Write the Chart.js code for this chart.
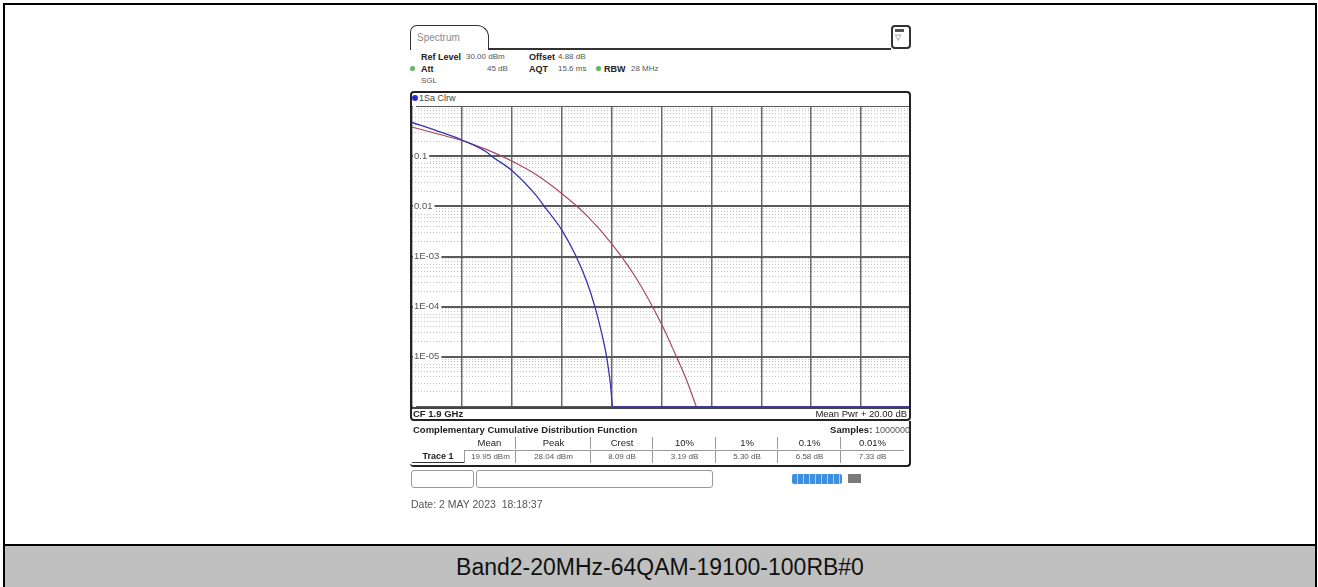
<!DOCTYPE html>
<html>
<head>
<meta charset="utf-8">
<script src="https://cdn.jsdelivr.net/npm/chart.js"></script>
<style>
  body { margin:0; width:1318px; height:587px; background:#fff; position:relative; overflow:hidden;
         font-family:"Liberation Sans", Arial, sans-serif; color:#222; }
  .a { position:absolute; white-space:nowrap; }
  .t { position:absolute; white-space:nowrap; line-height:12px; height:12px; }
  .b { font-weight:bold; font-size:9px; color:#222; }
  .v { font-size:8px; color:#555; }
  .dot { position:absolute; width:5px; height:5px; border-radius:50%; background:#5cb85c; }
</style>
</head>
<body>
<!-- document frame + caption band -->
<div class="a" style="left:3px;top:3px;width:1310px;height:600px;border:2px solid #000;border-bottom:none"></div>
<div class="a" style="left:3px;top:544px;width:1314px;height:2px;background:#000"></div>
<div class="a" style="left:5px;top:546px;width:1310px;height:41px;background:#c0c0c0"></div>
<div class="a" id="caption" style="left:5px;top:554px;width:1310px;text-align:center;font-size:23px;line-height:26px;color:#111"></div>

<!-- instrument header -->
<div class="a" style="left:410px;top:25px;width:77px;height:24px;border:1.5px solid #333;border-bottom:none;border-radius:7px 12px 0 0"></div>
<div class="t" style="left:417px;top:32px;font-size:10px;color:#8c8c8c">Spectrum</div>
<div class="a" style="left:488px;top:48px;width:403px;height:1.5px;background:#333"></div>
<div class="a" style="left:891px;top:25px;width:16px;height:20px;border:2px solid #333;border-radius:4px"></div>
<div class="a" style="left:895px;top:29px;width:9px;height:3px;background:#555"></div>
<div class="t" style="left:895px;top:32px;font-size:8px;color:#555">&#9661;</div>

<div class="t b" style="left:421px;top:51px">Ref Level</div>
<div class="t v" style="left:466px;top:51px">30.00 dBm</div>
<div class="t b" style="left:529px;top:51px">Offset</div>
<div class="t v" style="left:558px;top:51px">4.88 dB</div>
<div class="dot" style="left:410px;top:66px"></div>
<div class="t b" style="left:421px;top:63px">Att</div>
<div class="t v" style="left:487px;top:63px">45 dB</div>
<div class="t b" style="left:529px;top:63px">AQT</div>
<div class="t v" style="left:558px;top:63px">15.6 ms</div>
<div class="dot" style="left:596px;top:66px"></div>
<div class="t b" style="left:604px;top:63px">RBW</div>
<div class="t v" style="left:631px;top:63px">28 MHz</div>
<div class="t v" style="left:421px;top:75px">SGL</div>

<!-- diagram -->
<div class="a" style="left:412px;top:95px;width:6px;height:6px;border-radius:50%;background:#2a2ad0"></div>
<div class="t" style="left:419px;top:92px;font-size:9px;color:#444">1Sa Clrw</div>
<canvas id="ccdf" width="499" height="301" class="a" style="left:412px;top:106px"></canvas>
<div class="a" style="left:412px;top:407px;width:497px;height:1.5px;background:#444"></div>
<div class="a" style="left:410px;top:91px;width:497px;height:326px;border:2px solid #222;border-radius:4px;z-index:2"></div>
<div class="t" style="left:413px;top:408px;font-size:9.5px;font-weight:bold;color:#222">CF 1.9 GHz</div>
<div class="t" style="left:700px;top:408px;width:207px;text-align:right;font-size:9.5px;color:#222">Mean Pwr + 20.00 dB</div>

<!-- CCDF result panel -->
<div class="a" style="left:410px;top:421px;width:499px;height:44px;border-bottom:2px solid #222;border-right:2px solid #222;border-radius:0 0 4px 4px"></div>
<div class="t" style="left:413px;top:424px;font-size:9.5px;font-weight:bold">Complementary Cumulative Distribution Function</div>
<div class="t" style="left:760px;top:424px;width:150px;text-align:right;font-size:9.5px"><b>Samples:</b> <span style="color:#555;font-size:9px">1000000</span></div>
<div id="table"></div>

<!-- status bar -->
<div class="a" style="left:411px;top:470px;width:61px;height:16px;border:1px solid #999;border-radius:3px"></div>
<div class="a" style="left:476px;top:470px;width:235px;height:16px;border:1px solid #999;border-radius:3px"></div>
<div class="a" style="left:792px;top:474px;width:50px;height:10px;border-radius:2px;background:repeating-linear-gradient(90deg,#3d8fe0 0 5px,#a8cff2 5px 6px)"></div>
<div class="a" style="left:848px;top:474px;width:13px;height:9px;background:#7a7a7a"></div>

<div class="t" style="left:411px;top:498px;font-size:10.5px;color:#555">Date: 2 MAY 2023&nbsp; 18:18:37</div>

<script>
// measured trace (blue): power above mean in dB vs. probability
const traceDb   = [0, 1, 2, 3, 3.19, 4, 5, 5.3, 6, 6.58, 7, 7.33, 7.6, 7.8, 7.95, 8.05, 20];
const traceCcdf = [0.47, 0.32, 0.21, 0.12, 0.1, 0.052, 0.016, 0.01, 0.0034, 0.001, 0.00032, 0.0001,
                   0.00003, 0.00001, 0.000003, 0.000001, 0.000001];
// gaussian reference (red)
const gaussDb   = [0, 1, 2, 3, 4, 5, 6, 7, 8, 9, 10, 10.6, 11, 11.4];
const gaussCcdf = [0.38, 0.28, 0.205, 0.135, 0.08, 0.042, 0.018, 0.0066, 0.0018, 0.00036,
                   0.000045, 0.00001, 0.0000035, 0.000001];

// axis ticks
const yDecades    = [1, 1e-1, 1e-2, 1e-3, 1e-4, 1e-5, 1e-6];
const yTickValues = [1e-1, 1e-2, 1e-3, 1e-4, 1e-5];
const yTickLabels = ['0.1', '0.01', '1E-03', '1E-04', '1E-05'];

// result table
const statHeads  = ['Mean', 'Peak', 'Crest', '10%', '1%', '0.1%', '0.01%'];
const statValues = ['19.95 dBm', '28.04 dBm', '8.09 dB', '3.19 dB', '5.30 dB', '6.58 dB', '7.33 dB'];
const traceName  = 'Trace 1';
const caption    = 'Band2-20MHz-64QAM-19100-100RB#0';

document.getElementById('caption').textContent = caption;

// build the table
const seps = [464, 515, 590, 652, 715, 777, 840, 903];
let html = '';
statHeads.forEach((h, i) => {
  const l = seps[i], w = seps[i + 1] - seps[i];
  const bl = i === 0 ? 'none' : '1px solid #999';
  html += `<div class="t" style="left:${l}px;top:437px;width:${w}px;text-align:center;font-size:9.5px;color:#222;border-left:${bl}">${h}</div>`;
  html += `<div class="t" style="left:${l}px;top:450px;width:${w}px;text-align:center;font-size:8px;color:#555;border-left:1px solid #999;border-top:1px solid #999">${statValues[i]}</div>`;
});
html += `<div class="t" style="left:412px;top:450px;width:52px;text-align:center;font-size:9px;font-weight:bold;border-bottom:1.5px solid #333">${traceName}</div>`;
document.getElementById('table').innerHTML = html;

const minorTicks = [];
yDecades.slice(1).forEach(d => { for (let k = 2; k <= 9; k++) minorTicks.push({ value: k * d }); });

// axes take no room: plot fills the whole canvas, labels sit inside
const noRoom = s => {
  if (s.isHorizontal()) s.height = 0; else s.width = 0;
  s.paddingTop = s.paddingBottom = s.paddingLeft = s.paddingRight = 0;
};

new Chart(document.getElementById('ccdf'), {
  type: 'line',
  data: {
    datasets: [
      { label: 'Trace', data: traceDb.map((x, i) => ({ x, y: traceCcdf[i] })),
        borderColor: '#3535b0', borderWidth: 1.3, pointRadius: 0, cubicInterpolationMode: 'monotone', clip: false },
      { label: 'Gauss', data: gaussDb.map((x, i) => ({ x, y: gaussCcdf[i] })),
        borderColor: '#a8485e', borderWidth: 1.2, pointRadius: 0, cubicInterpolationMode: 'monotone', clip: false }
    ]
  },
  options: {
    responsive: false,
    animation: false,
    layout: { padding: 0 },
    plugins: { legend: { display: false }, tooltip: { enabled: false } },
    scales: {
      x: {
        type: 'linear', min: 0, max: 20,
        afterFit: noRoom,
        ticks: { display: false, stepSize: 2 },
        grid: { color: '#6a6a6a', lineWidth: 1.5, drawTicks: false },
        border: { display: false }
      },
      yMinor: {
        type: 'logarithmic', position: 'left', min: 1e-6, max: 1,
        afterFit: noRoom,
        afterBuildTicks: s => { s.ticks = minorTicks.slice(); },
        ticks: { display: false, autoSkip: false },
        grid: { color: '#c2c2c2', lineWidth: 1, drawTicks: false, z: -2 },
        border: { display: false, dash: [1, 2] }
      },
      y: {
        type: 'logarithmic', position: 'left', min: 1e-6, max: 1,
        afterFit: noRoom,
        afterBuildTicks: s => { s.ticks = yDecades.map(v => ({ value: v })); },
        ticks: {
          autoSkip: false, mirror: true, padding: 2,
          font: { family: 'Liberation Sans', size: 9.5 }, color: '#555',
          showLabelBackdrop: true, backdropColor: '#fff', backdropPadding: { left: 1, right: 2, top: 0, bottom: 0 },
          callback: v => {
            const i = yTickValues.findIndex(t => Math.abs(Math.log10(t) - Math.log10(v)) < 1e-6);
            return i < 0 ? '' : yTickLabels[i];
          }
        },
        grid: { color: '#5a5a5a', lineWidth: 2, drawTicks: false, z: -1 },
        border: { display: false }
      }
    }
  }
});
</script>
</body>
</html>
